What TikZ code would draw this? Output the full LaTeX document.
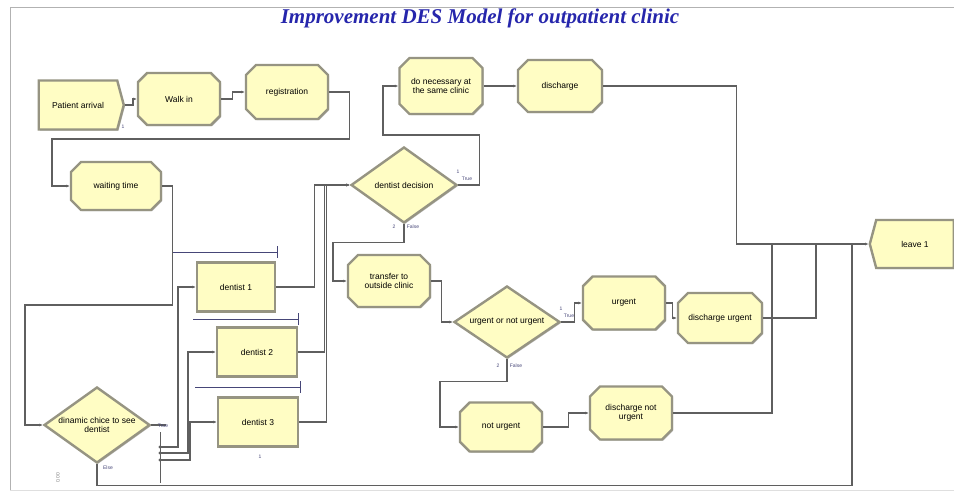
\documentclass[tikz,border=0pt]{standalone}
\usepackage{fontspec}
\setmainfont{Liberation Serif}
\newfontfamily\arenafont{Liberation Sans}
\usetikzlibrary{shapes.geometric,shapes.misc,shapes.symbols,arrows.meta,shadows}
\definecolor{modfill}{RGB}{255,253,196}
\definecolor{modedge}{RGB}{150,148,130}
\definecolor{linkgray}{RGB}{95,95,95}
\definecolor{titleblue}{RGB}{38,38,172}
\definecolor{queueblue}{RGB}{70,70,120}

\begin{document}
\begin{tikzpicture}[x=1pt, y=-1pt,
  module/.style={draw=modedge, line width=2.4pt, fill=modfill, align=center, inner sep=1pt,
    font=\arenafont\fontsize{8.5}{9.5}\selectfont,
    drop shadow={shadow xshift=1.2pt, shadow yshift=-1.2pt, opacity=0.45, fill=black!60}},
  process/.style={module, chamfered rectangle, chamfered rectangle xsep=5pt, chamfered rectangle ysep=5pt},
  plainbox/.style={module, rectangle},
  decision/.style={module, diamond, aspect=1.4, inner sep=0pt},
  conn/.style={draw=linkgray, line width=1.2pt, -{Latex[length=3.5pt,width=3pt]}},
  link/.style={draw=linkgray, line width=1.2pt},
  queue/.style={draw=queueblue, line width=0.8pt},
  tag/.style={font=\arenafont\fontsize{5}{5}\selectfont, text=queueblue, inner sep=0pt}]
\useasboundingbox (0,0) rectangle (954,493);
\fill[white] (0,0) rectangle (954,493);
\draw[gray!60, line width=0.8pt] (10,490) -- (10,7) -- (960,7);
\draw[gray!25, line width=0.8pt] (10,490) -- (960,490);
\node[font=\fontsize{21}{22}\selectfont\bfseries\itshape, text=titleblue] (title) at (480,18) {Improvement DES Model for outpatient clinic};

\node[module, signal, signal to=east, signal pointer angle=150, minimum width=85, minimum height=49] (patient) at (78,105) {Patient arrival};
\node[process, minimum width=82, minimum height=52] (walkin) at (179,99) {Walk in};
\node[process, minimum width=82, minimum height=54] (registration) at (287,92) {registration};
\node[process, minimum width=90, minimum height=48] (waiting) at (116,186) {waiting time};
\node[decision, minimum width=106, minimum height=76] (choice) at (97,425) {dinamic chice to see\\dentist};
\node[plainbox, minimum width=78, minimum height=49] (dentist1) at (236,287) {dentist 1};
\node[plainbox, minimum width=80, minimum height=49] (dentist2) at (257,352) {dentist 2};
\node[plainbox, minimum width=80, minimum height=49] (dentist3) at (258,422) {dentist 3};
\node[decision, minimum width=106, minimum height=76] (dentdec) at (404,185) {dentist decision};
\node[process, minimum width=83, minimum height=56] (necessary) at (441,86) {do necessary at\\the same clinic};
\node[process, minimum width=84, minimum height=52] (discharge) at (560,86) {discharge};
\node[process, minimum width=82, minimum height=52] (transfer) at (389,281) {transfer to\\outside clinic};
\node[decision, minimum width=106, minimum height=72] (urgdec) at (507,322) {urgent or not urgent};
\node[process, minimum width=82, minimum height=53] (urgent) at (624,303) {urgent};
\node[process, minimum width=84, minimum height=50] (disurgent) at (720,318) {discharge urgent};
\node[process, minimum width=82, minimum height=49] (noturgent) at (501,427) {not urgent};
\node[process, minimum width=82, minimum height=53] (disnot) at (631,413) {discharge not\\urgent};
\node[module, signal, signal to=west, signal pointer angle=150, minimum width=84, minimum height=48] (leave) at (915,244) {leave 1};

\coordinate (ex1) at (160,447);
\coordinate (ex2) at (160,453);
\coordinate (ex3) at (160,460);
\coordinate (j1) at (772,243);
\coordinate (j2) at (816,243);
\coordinate (j3) at (852,243);

\draw[queue] (172,252) -- (277,252); \draw[queue] (277,246) -- (277,258);
\draw[queue] (193,319) -- (298,319); \draw[queue] (298,313) -- (298,325);
\draw[queue] (195,387) -- (300,387); \draw[queue] (300,381) -- (300,393);

\draw[conn] (patient.east) -- ++(8,0) |- (walkin.west);
\draw[conn] (walkin.east) -- ++(11,0) |- (registration.west);
\draw[conn] (registration.east) -- ++(20,0) |- (52,139) |- (waiting.west);
\draw[conn] (waiting.east) -- ++(10,0) |- (25,305) |- (choice.west);
\draw[link] (choice.east) -- ++(15,0);
\draw[link, line width=0.6pt] (160,432) -- (160,483);
\draw[conn] (ex1) -- ++(18,0) |- (dentist1.west);
\draw[conn] (ex2) -- ++(28,0) |- (dentist2.west);
\draw[conn] (ex3) -- ++(30,0) |- (dentist3.west);
\foreach \e in {ex1,ex2,ex3} \fill[linkgray] (\e) circle (1.6);
\draw[link] (choice.south) -- ++(0,21) -| (j3);
\draw[conn] (dentist1.east) -- ++(38,0) |- (dentdec.west);
\draw[conn] (dentist2.east) -- ++(26,0) |- (dentdec.west);
\draw[conn] (dentist3.east) -- ++(27,0) |- (dentdec.west);
\draw[conn] (dentdec.east) -- ++(21,0) |- (383,135) |- (necessary.west);
\draw[conn] (necessary.east) -- (discharge.west);
\draw[conn] (discharge.east) -- ++(133,0) |- (leave.west);
\draw[conn] (dentdec.south) -- ++(0,18) -- ++(-71,0) |- (transfer.west);
\draw[conn] (transfer.east) -- ++(10,0) |- (urgdec.west);
\draw[conn] (urgdec.east) -- ++(13,0) |- (urgent.west);
\draw[conn] (urgent.east) -- ++(6,0) |- (disurgent.west);
\draw[conn] (urgdec.south) -- ++(0,22) -- ++(-67,0) |- (noturgent.west);
\draw[conn] (noturgent.east) -- ++(25,0) |- (disnot.west);
\draw[link] (disurgent.east) -| (j2);
\draw[link] (disnot.east) -| (j1);

\node[tag] (p1) at (123,127) {1};
\node[tag] (d1) at (260,457) {1};
\node[tag] (t1) at (458,172) {1};
\node[tag] (t2) at (467,179) {True};
\node[tag] (f1) at (394,227) {2};
\node[tag] (f2) at (413,227) {False};
\node[tag] (u1) at (561,309) {1};
\node[tag] (u2) at (569,316) {True};
\node[tag] (v1) at (498,366) {2};
\node[tag] (v2) at (516,366) {False};
\node[tag] (c1) at (108,468) {Else};
\node[tag] (c2) at (163,426) {True};
\node[tag, rotate=90, text=gray] (z) at (58,478) {0.00};
\end{tikzpicture}
\end{document}
